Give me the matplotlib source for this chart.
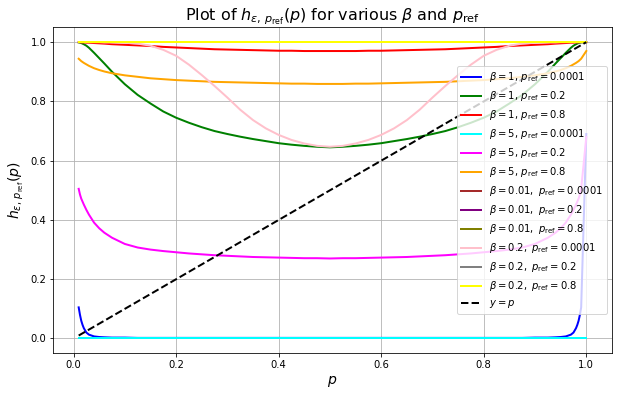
import matplotlib.pyplot as plt

# Werte
p = [0.01, 0.0125, 0.015, 0.0175, 0.02, 0.025, 0.03, 0.04, 0.05, 0.06, 0.075, 0.1, 0.125,
     0.15, 0.175, 0.2, 0.225, 0.25, 0.275, 0.3, 0.325, 0.35, 0.375, 0.4, 0.425, 0.45, 0.475,
     0.5, 0.525, 0.55, 0.575, 0.6, 0.625, 0.65, 0.675, 0.7, 0.725, 0.75, 0.775, 0.8, 0.825,
     0.85, 0.875, 0.9, 0.925, 0.94, 0.95, 0.96, 0.97, 0.975, 0.98, 0.9825, 0.985, 0.9875,
     0.99, 1.0]

h_b1_1e4 = [0.105, 0.080, 0.060, 0.046, 0.035, 0.020, 0.013, 0.007, 0.005, 0.004, 0.003, 0.003,
            0.002, 0.002, 0.002, 0.002, 0.002, 0.002, 0.002, 0.002, 0.002, 0.002, 0.002, 0.002,
            0.002, 0.002, 0.002, 0.002,
            0.002, 0.002, 0.002, 0.002, 0.002, 0.002, 0.002, 0.002, 0.002, 0.002, 0.002, 0.002,
            0.002, 0.002, 0.002, 0.003, 0.003, 0.004, 0.005, 0.007, 0.013, 0.020, 0.035, 0.046,
            0.060, 0.080, 0.105, 0.69]
h_b1_02 = [0.999, 0.998, 0.997, 0.995, 0.993, 0.988, 0.981, 0.964, 0.946, 0.928, 0.900, 0.858,
           0.822, 0.793, 0.766, 0.745, 0.728, 0.713, 0.700, 0.690, 0.681, 0.673, 0.666, 0.659,
           0.654, 0.650, 0.647, 0.645,
           0.647, 0.650, 0.654, 0.659, 0.666, 0.673, 0.681, 0.690, 0.700, 0.713, 0.728, 0.745,
           0.766, 0.793, 0.822, 0.858, 0.900, 0.928, 0.946, 0.964, 0.981, 0.988, 0.993, 0.995,
           0.997, 0.998, 0.999, 1.0]
h_b1_08 = [1.0, 1.0, 0.999, 0.999, 0.999, 0.998, 0.998, 0.997, 0.996, 0.995, 0.993, 0.991,
           0.989, 0.987, 0.984, 0.982, 0.980, 0.978, 0.976, 0.975, 0.974, 0.973, 0.972, 0.971,
           0.971, 0.970, 0.970, 0.970,
           0.970, 0.970, 0.971, 0.971, 0.972, 0.973, 0.974, 0.975, 0.976, 0.978, 0.980, 0.982,
           0.984, 0.987, 0.989, 0.991, 0.993, 0.995, 0.996, 0.997, 0.998, 0.998, 0.999, 0.999,
           0.999, 1.0, 1.0, 1.0]
h_b5_1e4 = [0.0] * len(p)
h_b5_02 = [0.505, 0.486, 0.472, 0.462, 0.452, 0.434, 0.418, 0.391, 0.372, 0.357, 0.340, 0.319,
           0.307, 0.300, 0.295, 0.291, 0.287, 0.284, 0.281, 0.279, 0.277, 0.275, 0.274, 0.273,
           0.272, 0.271, 0.271, 0.270,
           0.271, 0.271, 0.272, 0.273, 0.274, 0.275, 0.277, 0.279, 0.281, 0.284, 0.287, 0.291,
           0.295, 0.300, 0.307, 0.319, 0.340, 0.357, 0.372, 0.391, 0.418, 0.434, 0.452, 0.462,
           0.472, 0.486, 0.505, 0.680]
h_b5_08 = [0.944, 0.940, 0.936, 0.933, 0.930, 0.925, 0.920, 0.912, 0.906, 0.901, 0.895, 0.888,
           0.883, 0.878, 0.875, 0.872, 0.870, 0.868, 0.866, 0.865, 0.864, 0.863, 0.862, 0.861,
           0.860, 0.860, 0.859, 0.859,
           0.859, 0.860, 0.860, 0.861, 0.862, 0.863, 0.864, 0.865, 0.866, 0.868, 0.870, 0.872,
           0.875, 0.878, 0.883, 0.888, 0.895, 0.901, 0.906, 0.912, 0.920, 0.925, 0.930, 0.933,
           0.936, 0.940, 0.944, 0.970]
h_b001_1e4 = [0.999] * len(p)
h_b001_02 = [1.0] * len(p)
h_b001_08 = [1.0] * len(p)
h_b02_1e4 = [1.0, 1.0, 1.0, 1.0, 1.0, 1.0, 1.0, 1.0, 1.0, 0.999, 0.999, 0.998,
             0.995, 0.988, 0.974, 0.954, 0.924, 0.889, 0.852, 0.813, 0.772, 0.737, 0.709, 0.687,
             0.670, 0.658, 0.650, 0.647,
             0.650, 0.658, 0.670, 0.687, 0.709, 0.737, 0.772, 0.813, 0.852, 0.889, 0.924, 0.954,
             0.974, 0.988, 0.995, 0.998, 0.999, 0.999, 1.0, 1.0, 1.0, 1.0, 1.0, 1.0,
             1.0, 1.0, 1.0, 1.0]
h_b02_02 = [1.0] * len(p)
h_b02_08 = [1.0] * len(p)

diag_p = [0.01, 1.0]

kurven = [
    (h_b1_1e4, 'blue', r'$\beta = 1,\, p_{\rm ref} = 0.0001$'),
    (h_b1_02, 'green', r'$\beta = 1,\, p_{\rm ref} = 0.2$'),
    (h_b1_08, 'red', r'$\beta = 1,\, p_{\rm ref} = 0.8$'),
    (h_b5_1e4, 'cyan', r'$\beta = 5,\, p_{\rm ref} = 0.0001$'),
    (h_b5_02, 'magenta', r'$\beta = 5,\, p_{\rm ref} = 0.2$'),
    (h_b5_08, 'orange', r'$\beta = 5,\, p_{\rm ref} = 0.8$'),
    (h_b001_1e4, 'brown', r'$\beta = 0.01,\ p_{\rm ref} = 0.0001$'),
    (h_b001_02, 'purple', r'$\beta = 0.01,\ p_{\rm ref} = 0.2$'),
    (h_b001_08, 'olive', r'$\beta = 0.01,\ p_{\rm ref} = 0.8$'),
    (h_b02_1e4, 'pink', r'$\beta = 0.2,\ p_{\rm ref} = 0.0001$'),
    (h_b02_02, 'gray', r'$\beta = 0.2,\ p_{\rm ref} = 0.2$'),
    (h_b02_08, 'yellow', r'$\beta = 0.2,\ p_{\rm ref} = 0.8$'),
]

fig = plt.figure(figsize=(622 / 72, 396 / 72), dpi=72)
ax = fig.add_axes([0.0857, 0.1078, 0.8977, 0.8232])

for werte, farbe, label in kurven:
    ax.plot(p, werte, color=farbe, lw=2, label=label)
ax.plot(diag_p, diag_p, 'k--', lw=2, label=r'$y = p$')

ax.set_title(r'Plot of $h_{\epsilon,\, p_{\rm ref}}(p)$ for various $\beta$ and $p_{\rm ref}$', fontsize=16)
ax.set_xlabel(r'$p$', fontsize=14)
ax.set_ylabel(r'$h_{\epsilon,\, p_{\rm ref}}(p)$', fontsize=14)
ax.grid(True)
ax.legend(loc='center right')

fig.savefig('out.png', dpi=72)
